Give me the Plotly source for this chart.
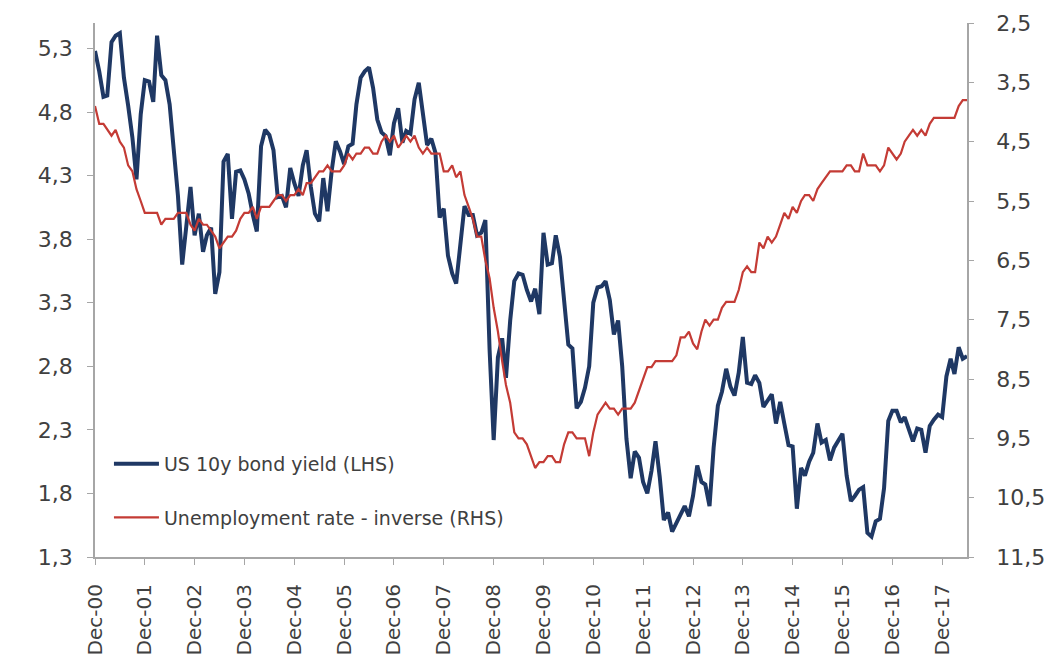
import pandas as pd
import plotly.graph_objects as go

# Monthly observations, Dec-2000 .. Jun-2018
months = pd.date_range("2000-12-01", "2018-06-01", freq="MS")

us10y_yield = [
    5.28,
    5.12, 4.92, 4.93, 5.35, 5.40, 5.42, 5.07, 4.85, 4.60, 4.27, 4.78, 5.05,   # 2001
    5.04, 4.88, 5.40, 5.09, 5.05, 4.86, 4.51, 4.14, 3.60, 3.93, 4.21, 3.83,   # 2002
    4.00, 3.70, 3.83, 3.89, 3.37, 3.54, 4.41, 4.47, 3.96, 4.33, 4.34, 4.27,   # 2003
    4.16, 3.99, 3.86, 4.53, 4.66, 4.62, 4.50, 4.13, 4.14, 4.05, 4.36, 4.24,   # 2004
    4.14, 4.38, 4.50, 4.21, 4.00, 3.94, 4.28, 4.02, 4.34, 4.57, 4.49, 4.39,   # 2005
    4.53, 4.55, 4.86, 5.07, 5.12, 5.15, 4.99, 4.74, 4.64, 4.61, 4.46, 4.71,   # 2006
    4.83, 4.56, 4.65, 4.63, 4.90, 5.03, 4.78, 4.54, 4.59, 4.48, 3.97, 4.04,   # 2007
    3.67, 3.53, 3.45, 3.77, 4.06, 3.99, 3.99, 3.83, 3.85, 3.95, 2.93, 2.22,   # 2008
    2.87, 3.02, 2.71, 3.16, 3.47, 3.53, 3.52, 3.40, 3.31, 3.41, 3.21, 3.85,   # 2009
    3.60, 3.61, 3.83, 3.66, 3.31, 2.97, 2.94, 2.47, 2.52, 2.63, 2.80, 3.30,   # 2010
    3.42, 3.43, 3.47, 3.32, 3.05, 3.16, 2.80, 2.23, 1.92, 2.13, 2.08, 1.89,   # 2011
    1.80, 1.98, 2.21, 1.93, 1.59, 1.65, 1.50, 1.57, 1.64, 1.70, 1.62, 1.78,   # 2012
    2.02, 1.89, 1.87, 1.70, 2.16, 2.49, 2.60, 2.78, 2.64, 2.57, 2.75, 3.03,   # 2013
    2.67, 2.66, 2.73, 2.67, 2.48, 2.53, 2.58, 2.35, 2.52, 2.35, 2.18, 2.17,   # 2014
    1.68, 2.00, 1.94, 2.05, 2.12, 2.35, 2.20, 2.22, 2.06, 2.16, 2.21, 2.27,   # 2015
    1.94, 1.74, 1.78, 1.83, 1.85, 1.49, 1.46, 1.58, 1.60, 1.84, 2.37, 2.45,   # 2016
    2.45, 2.36, 2.40, 2.29, 2.21, 2.31, 2.30, 2.12, 2.33, 2.38, 2.42, 2.40,   # 2017
    2.72, 2.86, 2.74, 2.95, 2.86, 2.88,                                       # 2018
]

unemployment_rate = [
    3.9,
    4.2, 4.2, 4.3, 4.4, 4.3, 4.5, 4.6, 4.9, 5.0, 5.3, 5.5, 5.7,   # 2001
    5.7, 5.7, 5.7, 5.9, 5.8, 5.8, 5.8, 5.7, 5.7, 5.7, 5.9, 6.0,   # 2002
    5.8, 5.9, 5.9, 6.0, 6.1, 6.3, 6.2, 6.1, 6.1, 6.0, 5.8, 5.7,   # 2003
    5.7, 5.6, 5.8, 5.6, 5.6, 5.6, 5.5, 5.4, 5.4, 5.5, 5.4, 5.4,   # 2004
    5.3, 5.4, 5.2, 5.2, 5.1, 5.0, 5.0, 4.9, 5.0, 5.0, 5.0, 4.9,   # 2005
    4.7, 4.8, 4.7, 4.7, 4.6, 4.6, 4.7, 4.7, 4.5, 4.4, 4.5, 4.4,   # 2006
    4.6, 4.5, 4.4, 4.5, 4.4, 4.6, 4.7, 4.6, 4.7, 4.7, 4.7, 5.0,   # 2007
    5.0, 4.9, 5.1, 5.0, 5.4, 5.6, 5.8, 6.1, 6.1, 6.5, 6.8, 7.3,   # 2008
    7.7, 8.2, 8.6, 8.9, 9.4, 9.5, 9.5, 9.6, 9.8, 10.0, 9.9, 9.9,  # 2009
    9.8, 9.8, 9.9, 9.9, 9.6, 9.4, 9.4, 9.5, 9.5, 9.5, 9.8, 9.4,   # 2010
    9.1, 9.0, 8.9, 9.0, 9.0, 9.1, 9.0, 9.0, 9.0, 8.9, 8.7, 8.5,   # 2011
    8.3, 8.3, 8.2, 8.2, 8.2, 8.2, 8.2, 8.1, 7.8, 7.8, 7.7, 7.9,   # 2012
    8.0, 7.7, 7.5, 7.6, 7.5, 7.5, 7.3, 7.2, 7.2, 7.2, 7.0, 6.7,   # 2013
    6.6, 6.7, 6.7, 6.2, 6.3, 6.1, 6.2, 6.1, 5.9, 5.7, 5.8, 5.6,   # 2014
    5.7, 5.5, 5.4, 5.4, 5.5, 5.3, 5.2, 5.1, 5.0, 5.0, 5.0, 5.0,   # 2015
    4.9, 4.9, 5.0, 5.0, 4.7, 4.9, 4.9, 4.9, 5.0, 4.9, 4.6, 4.7,   # 2016
    4.8, 4.7, 4.5, 4.4, 4.3, 4.4, 4.3, 4.4, 4.2, 4.1, 4.1, 4.1,   # 2017
    4.1, 4.1, 4.1, 3.9, 3.8, 3.8,                                 # 2018
]

assert len(us10y_yield) == len(months) == len(unemployment_rate)

x_tick_dates = pd.date_range("2000-12-01", "2017-12-01", freq="12MS")
x_tick_labels = ["Dec-%02d" % (d.year % 100) for d in x_tick_dates]
left_ticks = [1.3, 1.8, 2.3, 2.8, 3.3, 3.8, 4.3, 4.8, 5.3]
right_ticks = [2.5, 3.5, 4.5, 5.5, 6.5, 7.5, 8.5, 9.5, 10.5, 11.5]

series_names = ["US 10y bond yield (LHS)", "Unemployment rate - inverse (RHS)"]

TEXT = "#404040"
AXIS = "#a6a6a6"
FONT = "DejaVu Sans"

fig = go.Figure()
fig.add_trace(go.Scatter(
    x=months, y=us10y_yield, mode="lines", name=series_names[0],
    line=dict(color="#1f3864", width=4), legendgroup="a", yaxis="y",
))
fig.add_trace(go.Scatter(
    x=months, y=unemployment_rate, mode="lines", name=series_names[1],
    line=dict(color="#c43b35", width=2.2), legendgroup="b", yaxis="y2",
))

fig.update_layout(
    template="none",
    width=1058, height=662,
    margin=dict(l=95, r=91, t=23, b=105, autoexpand=False),
    paper_bgcolor="white", plot_bgcolor="white",
    separators=",.",
    font=dict(family=FONT, color=TEXT, size=22),
    showlegend=True,
    legend=dict(
        x=0.016, y=0.21, xanchor="left", yanchor="top",
        font=dict(family=FONT, size=19, color=TEXT),
        bgcolor="rgba(0,0,0,0)", borderwidth=0,
        tracegroupgap=26, itemwidth=45,
        traceorder="grouped",
    ),
    xaxis=dict(
        type="date", range=[months[0], months[-1]], automargin=False,
        tickmode="array", tickvals=x_tick_dates, ticktext=x_tick_labels,
        tickangle=-90, ticks="outside", ticklen=6, tickcolor=AXIS,
        showline=True, linecolor=AXIS, linewidth=2, showgrid=False,
        zeroline=False, tickfont=dict(size=20, color=TEXT),
        ticklabelstandoff=11,
    ),
    yaxis=dict(
        range=[1.3, 5.5], tickmode="array", tickvals=left_ticks, automargin=False,
        tickformat=".1f", ticks="outside", ticklen=6, tickcolor=AXIS,
        showline=True, linecolor=AXIS, linewidth=1.5, showgrid=False,
        zeroline=False, tickfont=dict(size=22, color=TEXT),
        ticklabelstandoff=10,
    ),
    yaxis2=dict(
        overlaying="y", side="right", range=[11.5, 2.5], automargin=False,
        tickmode="array", tickvals=right_ticks, tickformat=".1f",
        ticks="outside", ticklen=5, tickcolor=AXIS,
        showline=True, linecolor=AXIS, linewidth=1.5, showgrid=False,
        zeroline=False, tickfont=dict(size=22, color=TEXT),
        ticklabelstandoff=18,
    ),
)

fig.write_html("out.html")
